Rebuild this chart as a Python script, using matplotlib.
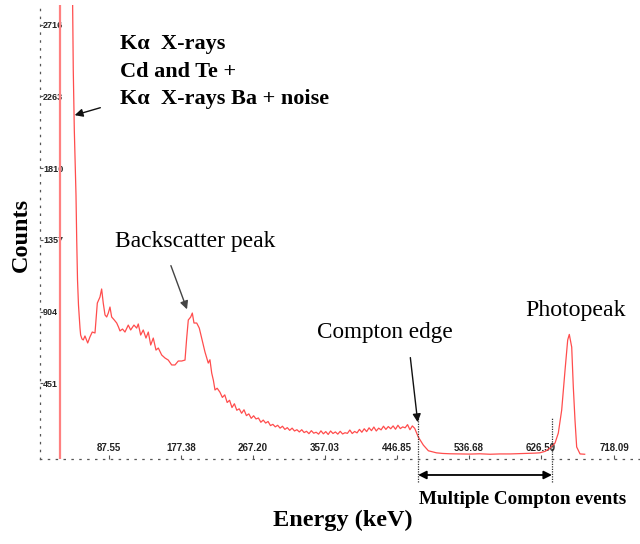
import matplotlib
matplotlib.use("Agg")
import matplotlib.pyplot as plt

# spectrum (energy in keV, counts)
energy = [42.1, 43.0, 44.3, 46.4, 47.3, 48.3, 49.5, 51.4, 52.2, 53.9, 55.5, 57.6, 59.5, 61.0,
          63.8, 66.7, 70.1, 73.0, 76.3, 78.4, 80.4, 82.6, 84.7, 86.7, 88.8, 90.9, 94.2, 97.2,
          99.4, 101.3, 104.4, 107.5, 111.6, 114.6, 118.7, 122.1, 124.1, 127.1, 130.3, 133.7,
          136.6, 139.6, 142.8, 146.2, 149.1, 153.3, 157.4, 161.5, 165.8, 169.9, 174.0, 178.3,
          182.4, 184.5, 186.5, 189.5, 191.5, 193.6, 197.0, 200.2, 203.2, 207.3, 211.4, 213.5,
          215.7, 217.8, 219.8, 222.5,
          226, 229, 232, 235, 238, 241, 244, 247, 250, 253, 256, 259, 262, 265, 268, 271, 274,
          277, 280, 283, 286, 289, 292, 295, 298, 301, 304, 307, 310, 313, 316, 319, 322, 325,
          328, 331, 334, 337, 340, 343, 346, 349, 352, 355, 358, 361, 364, 367, 370, 373, 376,
          379, 382, 385, 388, 391, 394, 397, 400, 403, 406, 409, 412, 415, 418, 421, 424, 427,
          430, 433, 436, 439, 442, 445, 448, 451, 454, 457, 460, 463, 466, 469,
          473.4, 479.7, 486.0, 496.0, 504.0, 513.0, 525.0, 538.0, 550.0, 563.0, 575.0, 588.0,
          600.0, 609.0, 618.0, 625.0, 632.0, 637.7, 644.0, 648.1, 652.3, 656.5, 659.8, 661.8,
          664.8, 666.8, 668.9, 671.0, 675.2, 681.0]
counts = [2904, 2431, 2051, 1641, 1356, 1104, 946, 800, 756, 731, 725, 750, 725, 706,
          744, 775, 769, 958, 996, 1047, 958, 883, 870, 895, 933, 870, 851, 832,
          807, 782, 794, 775, 819, 788, 819, 800, 826, 756, 788, 737,
          775, 693, 737, 661, 674, 630, 611, 598, 567, 567, 592, 592,
          598, 737, 851, 870, 895, 832, 832, 800, 737, 649, 579, 600,
          516, 470, 409, 420,
          395, 362, 378, 330, 344, 298, 322, 281, 290, 262, 284, 247, 258, 230, 246, 226, 232,
          205, 219, 200, 210, 184, 192, 176, 186, 168, 180, 160, 171, 154, 168, 150, 158, 144,
          158, 140, 148, 133, 152, 136, 142, 130, 151, 132, 146, 128, 150, 134, 144, 130, 148,
          131, 139, 135, 156, 134, 147, 138, 160, 142, 164, 146, 170, 152, 175, 150, 168, 157,
          180, 160, 178, 164, 182, 161, 186, 165, 176, 170, 190, 158, 182, 166,
          112, 61, 25, 12, 8, 6, 5, 4, 6, 3, 5, 5,
          7, 8, 10, 12, 22, 42, 74, 137, 282, 535, 725, 760,
          680, 428, 219, 49, 5, 3]

tick_energy = [87.55, 177.38, 267.20, 357.03, 446.85, 536.68, 626.50, 718.09]
tick_energy_labels = ["87.55", "177.38", "267.20", "357.03", "446.85", "536.68", "626.50", "718.09"]
tick_counts = [451, 904, 1357, 1810, 2263, 2716]

marker_line = 26.4          # red vertical line at the left
compton_edge = 473.2
compton_end = 640.2

serif = "Liberation Serif"
sans = "Liberation Sans"

fig = plt.figure(figsize=(6.4, 5.44), dpi=100)
ax = fig.add_axes([0.0625, 0.15625, 0.9375, 0.8346])

ax.plot(energy, counts, color="#ff4d4d", lw=0.9)
ax.axvline(marker_line, color="#ff8080", lw=1.6)

ax.set_xlim(1.5, 750)
ax.set_ylim(-27, 2841)

# dotted axes, labels inside
for s in ["top", "right"]:
    ax.spines[s].set_visible(False)
for s in ["left", "bottom"]:
    ax.spines[s].set_linestyle((0, (1, 5.3)))
    ax.spines[s].set_linewidth(0.9)
    ax.spines[s].set_color("#555555")

ax.set_xticks(tick_energy)
ax.set_xticklabels(tick_energy_labels)
ax.set_yticks(tick_counts)
ax.set_yticklabels([str(v) for v in tick_counts])
ax.tick_params(axis="x", direction="in", length=3, width=0.8, color="#555555", pad=-11.5,
               labelsize=7, labelcolor="#222222")
ax.tick_params(axis="y", direction="in", length=2.5, width=0.8, color="#555555", pad=-2.2,
               labelsize=6.5, labelcolor="#222222")
for lab in ax.get_yticklabels():
    lab.set_horizontalalignment("left")
    lab.set_fontweight("bold")
    lab.set_family(sans)
for lab in ax.get_xticklabels():
    lab.set_fontweight("bold")
    lab.set_family(sans)

# annotations
ax.text(101.3, 2655, "K\u03b1  X-rays\nCd and Te +\nK\u03b1  X-rays Ba + noise",
        family=serif, fontsize=16, fontweight="bold", ha="left", va="top", linespacing=1.5)
arrow = dict(arrowstyle="-|>", color="#111111", lw=1.0, mutation_scale=12)
ax.annotate("", xy=(41.4, 2140), xytext=(80.1, 2197), arrowprops=arrow)

ax.text(95.0, 1344, "Backscatter peak", family=serif, fontsize=17, ha="left", va="center")
ax.annotate("", xy=(186.1, 902), xytext=(163.6, 1211), arrowprops=dict(arrow, color="#444444"))

ax.text(347.0, 769, "Compton edge", family=serif, fontsize=16.7, ha="left", va="center")
ax.annotate("", xy=(473.1, 188), xytext=(463.1, 631), arrowprops=arrow)

ax.text(606.5, 914, "Photopeak", family=serif, fontsize=17.2, ha="left", va="center")

# multiple Compton events range below the axis
ax.vlines([compton_edge, compton_end], -172, 232, colors="#333333", linestyles=(0, (1, 1)),
          lw=0.9, clip_on=False)
ax.annotate("", xy=(compton_edge, -128), xytext=(compton_end, -128), annotation_clip=False,
            arrowprops=dict(arrowstyle="<|-|>", color="black", lw=1.3, mutation_scale=12,
                            shrinkA=0, shrinkB=0))
ax.text(603.4, -280, "Multiple Compton events", family=serif,
        fontsize=13.8, fontweight="bold", ha="center", va="center", clip_on=False)

fig.text(21 / 640, 1 - 235 / 544, "Counts", family=serif, fontsize=17.5, fontweight="bold",
         rotation=90, ha="center", va="center")
fig.text(343 / 640, 1 - 520 / 544, "Energy (keV)", family=serif, fontsize=17.5, fontweight="bold",
         ha="center", va="center")

plt.savefig("out.png", dpi=100)
